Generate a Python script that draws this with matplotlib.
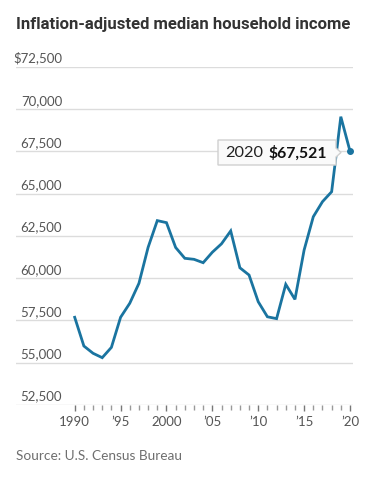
import matplotlib
matplotlib.use("Agg")
import matplotlib.pyplot as plt
import matplotlib.transforms as mtransforms
from matplotlib.patches import Polygon

W, H = 370, 484

# median household income, 2020 dollars
years = list(range(1990, 2021))
income = [57690, 55990, 55560, 55300, 55910, 57690, 58520, 59700, 61830, 63410,
          63290, 61820, 61180, 61120, 60920, 61540, 62040, 62800, 60620, 60190,
          58610, 57720, 57610, 59640, 58750, 61670, 63640, 64530, 65120, 69560,
          67521]
ytick_vals = [52500, 55000, 57500, 60000, 62500, 65000, 67500, 70000, 72500]
ytick_labels = ["52,500", "55,000", "57,500", "60,000", "62,500", "65,000",
                "67,500", "70,000", "$72,500"]
xtick_vals = [1990, 1995, 2000, 2005, 2010, 2015, 2020]
xtick_labels = ["1990", "\u201995", "2000", "\u201905", "\u201910", "\u201915", "\u201920"]

LINE = "#1a74a0"
GRID = "#dcdcdc"
TXT = "#555555"

plt.rcParams["font.family"] = ["Lato", "DejaVu Sans"]

fig = plt.figure(figsize=(W / 100, H / 100), dpi=100)

# axes box in pixels: gridlines from x=16 to 353, y=67 (top) to 405 (bottom)
left, right, top, bottom = 16, 353, 67, 405
ax = fig.add_axes([left / W, 1 - bottom / H, (right - left) / W, (bottom - top) / H])
ppy = (350 - 74.7) / 30
ax.set_xlim(1990 - (74.7 - left) / ppy, 2020 + (right - 350) / ppy)
ax.set_ylim(52500, 72500)

for s in ax.spines.values():
    s.set_visible(False)
for v in ytick_vals:
    ax.axhline(v, color=GRID, lw=1, zorder=1)

ax.plot(years, income, color=LINE, lw=2, solid_joinstyle="miter", zorder=3)
ax.plot(years[-1], income[-1], "o", color=LINE, ms=4, zorder=4)

# y labels sit above the gridlines, right aligned
off = mtransforms.offset_copy(ax.get_yaxis_transform(), fig=fig, x=0, y=2.5, units="dots")
lx = (62 - left) / (right - left)
for v, lab in zip(ytick_vals, ytick_labels):
    ax.text(lx, v, lab, transform=off, ha="right", va="bottom",
            fontsize=9.5, color=TXT)
ax.set_yticks([])

ax.set_xticks(xtick_vals)
ax.set_xticks(years, minor=True)
ax.set_xticklabels(xtick_labels, fontsize=9.5, color=TXT)
ax.tick_params(axis="x", which="both", direction="out", length=4, width=1,
               color="#777777", pad=4)
ax.tick_params(axis="x", which="minor", color="#999999", length=3.5)

# tooltip box
def fx(px):
    return px / W

def fy(py):
    return 1 - py / H

bx0, bx1, by0, by1 = 218, 336, 140, 165
box = Polygon([(fx(bx0), fy(by0)), (fx(bx1), fy(by0)), (fx(bx1), fy(148)),
               (fx(341), fy(152.5)), (fx(bx1), fy(157)), (fx(bx1), fy(by1)),
               (fx(bx0), fy(by1))], closed=True, transform=fig.transFigure,
              facecolor="#fafafa", edgecolor="#d0d0d0", lw=1, zorder=5)
fig.patches.append(box)
fig.text(fx(225), fy(153), "2020", ha="left", va="center", fontsize=11.8,
         color="#222222", zorder=6)
fig.text(fx(327), fy(153), "$67,521", ha="right", va="center", fontsize=11.3,
         fontweight="bold", color="#111111", zorder=6)

fig.text(fx(16), fy(25), "Inflation-adjusted median household income",
         ha="left", va="center", fontsize=12, fontweight="bold",
         color="#333333", family=["Roboto", "DejaVu Sans"])
fig.text(fx(16), fy(456), "Source: U.S. Census Bureau", ha="left", va="center",
         fontsize=9.8, color="#6f6f6f")

fig.savefig("out.png", dpi=100, facecolor="white")
